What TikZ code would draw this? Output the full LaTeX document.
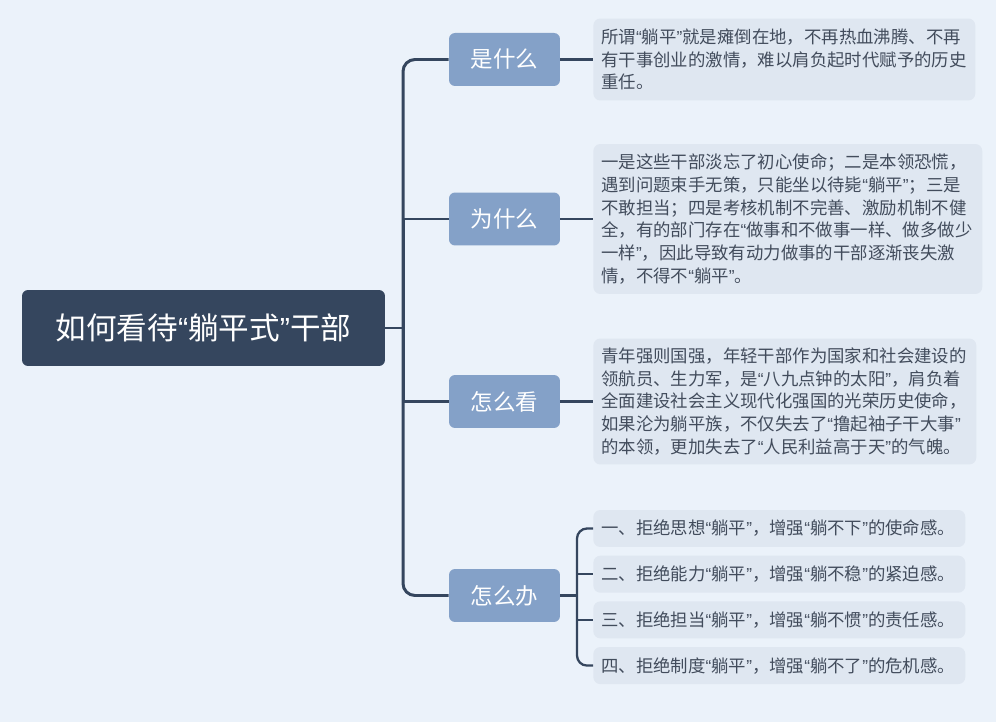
\documentclass[tikz,border=0pt]{standalone}
\usepackage{fontspec}
\setmainfont{Noto Sans CJK SC}
\newfontfamily\quotefont{Liberation Sans}
\newcommand{\lquo}{{\quotefont “}}
\newcommand{\rquo}{{\quotefont ”}}
\usepackage{xcolor}
\usepackage{tikz}
\usetikzlibrary{positioning}
\definecolor{bgc}{RGB}{235,242,250}
\definecolor{slate}{RGB}{53,70,94}
\definecolor{steel}{RGB}{132,161,200}
\definecolor{mist}{RGB}{223,231,241}
\definecolor{ink}{RGB}{66,76,92}

\begin{document}
\begin{tikzpicture}[
    x=0.02cm, y=-0.02cm,
    rootbox/.style={rectangle, fill=slate, rounded corners=0.12cm,
        minimum width=7.26cm, minimum height=1.52cm, align=center,
        text=white, font=\fontsize{17.4pt}{20pt}\selectfont},
    topic/.style={rectangle, fill=steel, rounded corners=0.12cm,
        minimum width=2.22cm, minimum height=1.06cm, align=center,
        text=white, font=\fontsize{12.8pt}{14pt}\selectfont},
    leaf/.style={rectangle, fill=mist, rounded corners=0.14cm, anchor=west,
        inner xsep=0.16cm, inner ysep=0pt, align=left, text=ink,
        font=\fontsize{9.9pt}{13pt}\selectfont},
    item/.style={leaf, text width=7.12cm, minimum height=0.74cm},
    trunk/.style={slate, line width=1.7pt, rounded corners=0.24cm},
    twig/.style={slate, line width=1.3pt, rounded corners=0.2cm}
]
\useasboundingbox[fill=bgc] (0,0) rectangle (996,722);

\node[rootbox] (root) at (203.5,328) {如何看待\lquo 躺平式\rquo 干部};

\node[topic] (what) at (504.5,59.5) {是什么};
\node[topic] (why) at (504.5,219) {为什么};
\node[topic] (view) at (504.5,401.5) {怎么看};
\node[topic] (todo) at (504.5,595.5) {怎么办};

\node[leaf, text width=7.32cm, minimum height=1.64cm] (whattxt) at (593,59.5)
    {所谓\lquo 躺平\rquo 就是瘫倒在地，不再热血沸腾、不再\\有干事创业的激情，难以肩负起时代赋予的历史\\重任。};
\node[leaf, text width=7.46cm, minimum height=3.0cm] (whytxt) at (593,219)
    {一是这些干部淡忘了初心使命；二是本领恐慌，\\遇到问题束手无策，只能坐以待毙\lquo 躺平\rquo ；三是\\不敢担当；四是考核机制不完善、激励机制不健\\全，有的部门存在\lquo 做事和不做事一样、做多做少\\一样\rquo ，因此导致有动力做事的干部逐渐丧失激\\情，不得不\lquo 躺平\rquo 。};
\node[leaf, text width=7.34cm, minimum height=2.52cm] (viewtxt) at (593,401.5)
    {青年强则国强，年轻干部作为国家和社会建设的\\领航员、生力军，是\lquo 八九点钟的太阳\rquo ，肩负着\\全面建设社会主义现代化强国的光荣历史使命，\\如果沦为躺平族，不仅失去了\lquo 撸起袖子干大事\rquo \\的本领，更加失去了\lquo 人民利益高于天\rquo 的气魄。};

\node[item] (todoa) at (593,528.5) {一、拒绝思想\lquo 躺平\rquo ，增强\lquo 躺不下\rquo 的使命感。};
\node[item, below=0.16cm of todoa.south west, anchor=north west] (todob) {二、拒绝能力\lquo 躺平\rquo ，增强\lquo 躺不稳\rquo 的紧迫感。};
\node[item, below=0.16cm of todob.south west, anchor=north west] (todoc) {三、拒绝担当\lquo 躺平\rquo ，增强\lquo 躺不惯\rquo 的责任感。};
\node[item, below=0.16cm of todoc.south west, anchor=north west] (todod) {四、拒绝制度\lquo 躺平\rquo ，增强\lquo 躺不了\rquo 的危机感。};

% trunk
\coordinate (hub) at (403,328);
\draw[trunk] (root.east) -- (hub);
\draw[trunk] (hub) |- (what.west);
\draw[trunk, sharp corners] (hub) |- (why.west);
\draw[trunk, sharp corners] (hub) |- (view.west);
\draw[trunk] (hub) |- (todo.west);

% topic to text
\draw[twig] (what.east) -- (whattxt.west);
\draw[twig] (why.east) -- (whytxt.west);
\draw[twig] (view.east) -- (viewtxt.west);

\coordinate (fork) at (577,595.5);
\draw[twig] (todo.east) -- (fork);
\draw[twig] (fork) |- (todoa.west);
\draw[twig, sharp corners] (fork) |- (todob.west);
\draw[twig, sharp corners] (fork) |- (todoc.west);
\draw[twig] (fork) |- (todod.west);
\end{tikzpicture}
\end{document}
